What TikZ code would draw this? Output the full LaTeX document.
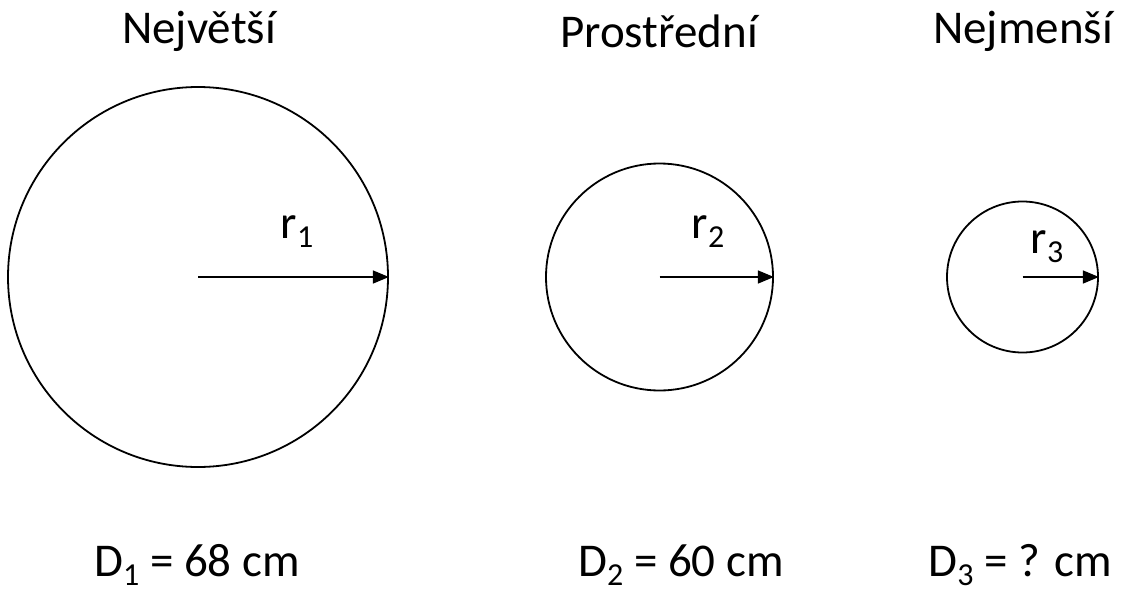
\documentclass[tikz,border=0pt]{standalone}
\usepackage{fontspec}
\setmainfont{Carlito}
\usetikzlibrary{arrows.meta}
\newcommand{\mysub}[1]{\raisebox{-0.2em}{\fontsize{32}{32}\selectfont #1}}
\begin{document}
\begin{tikzpicture}[x=1pt,y=-1pt,
  ring/.style={draw=black,line width=1.8pt},
  radiusarrow/.style={draw=black,line width=1.4pt,-{Triangle[length=16pt,width=13pt]}},
  title/.style={anchor=base,inner sep=0pt,font=\fontsize{47}{56}\selectfont},
  lbl/.style={anchor=base,inner sep=0pt,font=\fontsize{47}{56}\selectfont}]
\useasboundingbox (0,0) rectangle (1123,589);
% circles
\node[ring,circle,minimum size=380pt,inner sep=0pt] (c1) at (198,277) {};
\node[ring,circle,minimum size=227pt,inner sep=0pt] (c2) at (659.5,277) {};
\node[ring,circle,minimum size=151pt,inner sep=0pt] (c3) at (1022.5,277) {};
% radius arrows
\draw[radiusarrow] (c1.center) -- (c1.east);
\draw[radiusarrow] (c2.center) -- (c2.east);
\draw[radiusarrow] (c3.center) -- (c3.east);
% titles
\node[title] (t1) at (199,43) {Největší};
\node[title] (t2) at (659,47) {Prostřední};
\node[title] (t3) at (1023,43) {Nejmenší};
% radius labels
\node[lbl] (r1) at (297,238) {r\mysub{1}};
\node[lbl] (r2) at (708,238) {r\mysub{2}};
\node[lbl] (r3) at (1047,253) {r\mysub{3}};
% diameters
\node[lbl] (d1) at (197,576) {D\mysub{1} = 68 cm};
\node[lbl] (d2) at (681,576) {D\mysub{2} = 60 cm};
\node[lbl] (d3) at (1020,576) {D\mysub{3} = ? cm};
\end{tikzpicture}
\end{document}
